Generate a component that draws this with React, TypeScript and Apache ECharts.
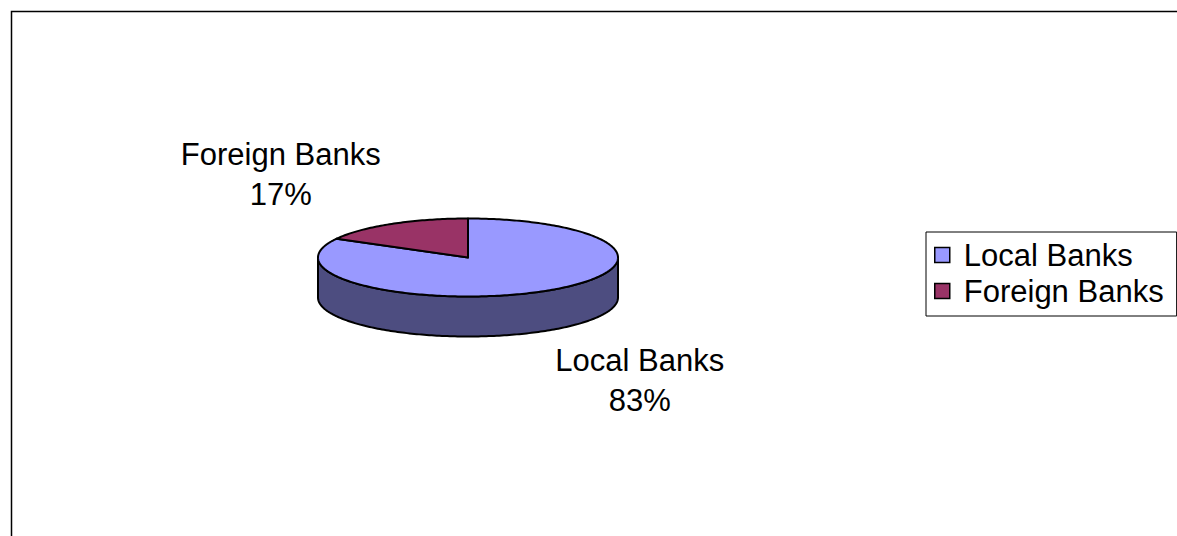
import React, { useEffect, useRef } from "react";
import * as echarts from "echarts";

// ---- data ----
const categories: string[] = ["Local Banks", "Foreign Banks"];
const values: number[] = [83, 17];

// ---- style ----
const TOP_COLORS = ["#9999ff", "#993366"];
const SIDE_COLORS = ["#4d4d80", "#4d1a33"];
const FONT_FAMILY = '"Liberation Sans", Arial, Helvetica, sans-serif';
const FONT_SIZE = 31;
const LINE_H = 40;

// pie geometry (layout)
const CX = 468;
const CY = 257.5;
const RX = 150;
const RY = 39;
const DEPTH = 40;
const GAP_X = 11;
const GAP_Y = 9;

function pt(theta: number, dy = 0): number[] {
  return [CX + RX * Math.sin(theta), CY - RY * Math.cos(theta) + dy];
}

function arcPoints(a0: number, a1: number, dy: number): number[][] {
  const n = Math.max(2, Math.ceil((a1 - a0) / (Math.PI / 180)));
  const pts: number[][] = [];
  for (let k = 0; k <= n; k++) {
    pts.push(pt(a0 + ((a1 - a0) * k) / n, dy));
  }
  return pts;
}

let measureCtx: CanvasRenderingContext2D | null = null;
function textWidth(s: string): number {
  if (!measureCtx) {
    const c = document.createElement("canvas");
    measureCtx = c.getContext("2d");
  }
  if (!measureCtx) return s.length * FONT_SIZE * 0.5;
  measureCtx.font = `${FONT_SIZE}px ${FONT_FAMILY}`;
  return measureCtx.measureText(s).width;
}

function makeRenderItem(i: number) {
  return () => {
    const total = values.reduce((a, b) => a + b, 0);
    let before = 0;
    for (let k = 0; k < i; k++) before += values[k];
    const start = (before / total) * Math.PI * 2;
    const end = ((before + values[i]) / total) * Math.PI * 2;
    const children: any[] = [];

    // front wall
    const w0 = Math.max(start, Math.PI / 2);
    const w1 = Math.min(end, (Math.PI * 3) / 2);
    if (w1 > w0) {
      const pts = arcPoints(w0, w1, 0).concat(arcPoints(w0, w1, DEPTH).reverse());
      children.push({
        type: "polygon",
        shape: { points: pts },
        style: { fill: SIDE_COLORS[i], stroke: "#000", lineWidth: 2, lineJoin: "round" },
      });
    }
    // top face
    const topPts = [[CX, CY]].concat(arcPoints(start, end, 0));
    children.push({
      type: "polygon",
      shape: { points: topPts },
      style: { fill: TOP_COLORS[i], stroke: "#000", lineWidth: 2, lineJoin: "round" },
    });

    // label
    const pct = Math.round((values[i] / total) * 100);
    const lines = [categories[i], `${pct}%`];
    const mid = (start + end) / 2;
    const s = Math.sin(mid);
    const c = Math.cos(mid);
    const anchor = pt(mid, c < 0 ? DEPTH : 0);
    const halfW = Math.max(...lines.map(textWidth)) / 2;
    const halfH = (LINE_H * lines.length) / 2;
    const x = anchor[0] + (s >= 0 ? 1 : -1) * (halfW + GAP_X);
    const y = anchor[1] + (c > 0 ? -1 : 1) * (halfH + GAP_Y);
    children.push({
      type: "text",
      x,
      y,
      style: {
        text: lines.join("\n"),
        fontSize: FONT_SIZE,
        fontFamily: FONT_FAMILY,
        fill: "#000",
        align: "center",
        verticalAlign: "middle",
        lineHeight: LINE_H,
      },
    });
    return { type: "group", children };
  };
}

export default function App() {
  const ref = useRef<HTMLDivElement>(null);
  useEffect(() => {
    if (!ref.current) return;
    const chart = echarts.init(ref.current, null, { renderer: "svg" });
    const option: any = {
      animation: false,
      backgroundColor: "#ffffff",
      graphic: [
        {
          type: "rect",
          shape: { x: 11.5, y: 11.5, width: 1400, height: 800 },
          style: { fill: "none", stroke: "#000", lineWidth: 1.5 },
          z: -10,
          silent: true,
        },
      ],
      legend: {
        orient: "vertical",
        left: 926,
        top: 232,
        borderColor: "#000",
        borderWidth: 1,
        padding: [5, 13, 7, 8],
        itemWidth: 15,
        itemHeight: 15,
        itemGap: 0,
        icon: "rect",
        itemStyle: { borderColor: "#000", borderWidth: 1.5 },
        textStyle: {
          fontSize: FONT_SIZE,
          fontFamily: FONT_FAMILY,
          color: "#000",
          lineHeight: 36,
          padding: [0, 0, 0, 9],
        },
        data: categories,
        selectedMode: false,
      },
      series: categories.map((name, i) => ({
        type: "custom",
        name,
        coordinateSystem: "none",
        silent: true,
        itemStyle: { color: TOP_COLORS[i] },
        renderItem: makeRenderItem(i),
        data: [values[i]],
      })),
    };
    chart.setOption(option);
    return () => chart.dispose();
  }, []);
  return (
    <div
      ref={ref}
      style={{ position: "absolute", left: 0, top: 0, width: 1177, height: 536, background: "#fff" }}
    />
  );
}
